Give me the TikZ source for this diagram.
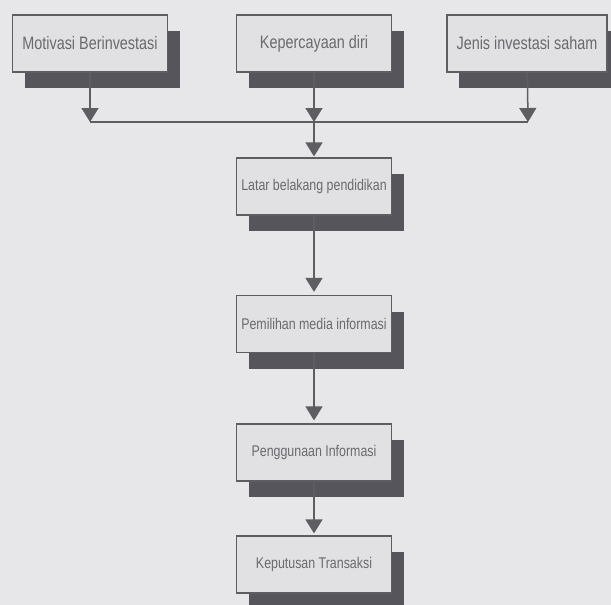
\documentclass[tikz,border=0pt]{standalone}
\usepackage{fontspec}
\newfontfamily\boxfont{Liberation Sans}[FakeStretch=0.8]
\usetikzlibrary{arrows.meta,shadows}
\definecolor{paper}{HTML}{E7E7EA}
\definecolor{boxfill}{HTML}{E1E1E4}
\definecolor{boxline}{HTML}{5E5E62}
\definecolor{shade}{HTML}{55555B}
\definecolor{ink}{HTML}{6A6A6E}
\begin{document}
\begin{tikzpicture}
			[x=1pt,y=-1pt,
			every box/.style={draw=boxline,line width=1.2pt,fill=boxfill,text=ink,
				inner sep=2pt,minimum width=155pt,minimum height=57pt,
				drop shadow={shadow xshift=12pt,shadow yshift=-16pt,fill=shade,opacity=1}},
			top box/.style={every box,font=\boxfont\fontsize{18}{20}\selectfont},
			mid box/.style={every box,font=\boxfont\fontsize{15.5}{17}\selectfont},
			flow/.style={-{Triangle[width=17pt,length=14pt]},draw=boxline,line width=1.5pt}]
			\useasboundingbox (0,0) rectangle (611,605);
			\fill[paper] (0,0) rectangle (611,605);
			\node[top box] (M) at (90,43.5) {Motivasi Berinvestasi};
			\node[top box] (K) at (314,43.5) {Kepercayaan diri};
			\node[top box,minimum width=160pt] (J) at (527,43.5) {Jenis investasi saham};
			\node[mid box] (L) at (314,186.5) {Latar belakang pendidikan};
			\node[mid box] (P) at (314,324) {Pemilihan media informasi};
			\node[mid box] (G) at (314,452.5) {Penggunaan Informasi};
			\node[mid box] (T) at (314,564.5) {Keputusan Transaksi};
			\coordinate (m) at (90,122);
			\coordinate (k) at (314,122);
			\coordinate (j) at (528,122);
			\draw[flow] (M) -- (m);
			\draw[flow] (K) -- (k);
			\draw[flow] (J) -- (j);
			\draw[boxline,line width=1.5pt] (m) -- (j);
			\draw[flow,shorten >=1pt] (k) -- (L);
			\draw[flow,shorten >=3pt] (L) -- (P);
			\draw[flow,shorten >=3pt] (P) -- (G);
			\draw[flow,shorten >=2pt] (G) -- (T);
		\end{tikzpicture}
\end{document}
